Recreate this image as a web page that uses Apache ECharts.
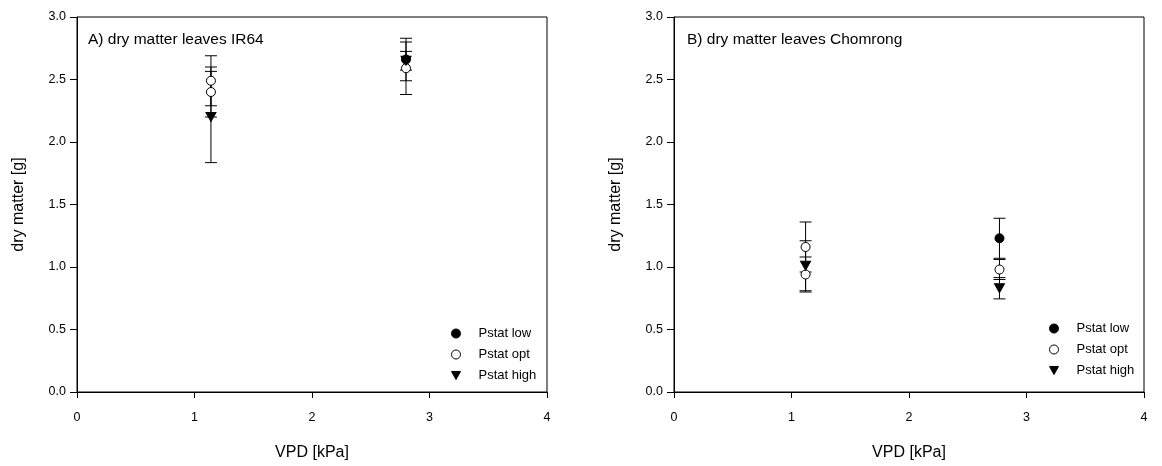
<!DOCTYPE html>
<html>
<head>
<meta charset="utf-8">
<script src="https://cdn.jsdelivr.net/npm/echarts@6/dist/echarts.min.js"></script>
<style>
  html, body { margin: 0; padding: 0; background: #fff; }
  #main { width: 1162px; height: 466px; }
</style>
</head>
<body>
<div id="main"></div>
<script>
// values
var xTicks = [0, 1, 2, 3, 4]
var yTicks = [0, 0.5, 1.0, 1.5, 2.0, 2.5, 3.0]

// A) IR64
var xA = [1.14, 2.80]
var lowA = [2.40, 2.66]
var lowErrA = [0.20, 0.17]
var optA = [2.49, 2.59]
var optErrA = [0.20, 0.21]
var highA = [2.20, 2.65]
var highErrA = [0.365, 0.075]

// B) Chomrong
var xB = [1.12, 2.77]
var lowB = [0.94, 1.23]
var lowErrB = [0.14, 0.16]
var optB = [1.16, 0.98]
var optErrB = [0.20, 0.08]
var highB = [1.01, 0.83]
var highErrB = [0.20, 0.085]

var font = 'Liberation Sans, Arial, sans-serif'
var triDown = 'path://M0,0L10,0L5,9Z'
var chart = echarts.init(document.getElementById('main'))

function pts (xs, ys, openFirst) {
  let out = []
  for (let i = 0; i < xs.length; i++) {
    let item = { value: [xs[i], ys[i]] }
    // first "low" point is drawn hollow in the original
    if (openFirst && i === 0) item.itemStyle = { color: '#fff', borderColor: '#000', borderWidth: 1 }
    out.push(item)
  }
  return out
}

function errs (xs, ys, es) {
  let out = []
  for (let i = 0; i < xs.length; i++) {
    out.push([xs[i], ys[i] - es[i], ys[i] + es[i]])
  }
  return out
}

function errRender (params, api) {
  let p = api.coord([api.value(0), api.value(1)])
  let q = api.coord([api.value(0), api.value(2)])
  let w = 6
  let st = { stroke: '#000', lineWidth: 1 }
  return {
    type: 'group',
    children: [
      { type: 'line', shape: { x1: p[0], y1: p[1], x2: q[0], y2: q[1] }, style: st },
      { type: 'line', shape: { x1: p[0] - w, y1: p[1], x2: p[0] + w, y2: p[1] }, style: st },
      { type: 'line', shape: { x1: q[0] - w, y1: q[1], x2: q[0] + w, y2: q[1] }, style: st }
    ]
  }
}

function xAxisOpt (idx) {
  return {
    gridIndex: idx,
    type: 'value',
    min: xTicks[0],
    max: xTicks[xTicks.length - 1],
    interval: 1,
    name: 'VPD [kPa]',
    nameLocation: 'middle',
    nameGap: 53,
    nameTextStyle: { fontFamily: font, fontSize: 16, color: '#000' },
    axisLine: { lineStyle: { color: '#000', width: 1 } },
    axisTick: { show: true, length: 6, lineStyle: { color: '#000' } },
    axisLabel: { fontFamily: font, fontSize: 12.5, color: '#000', margin: 19 },
    splitLine: { show: false }
  }
}

function yAxisOpt (idx) {
  return {
    gridIndex: idx,
    type: 'value',
    min: yTicks[0],
    max: yTicks[yTicks.length - 1],
    interval: 0.5,
    name: 'dry matter [g]',
    nameLocation: 'middle',
    nameGap: 50,
    nameTextStyle: { fontFamily: font, fontSize: 16, color: '#000' },
    axisLine: { show: true, lineStyle: { color: '#000', width: 1 } },
    axisTick: { show: true, length: 7, lineStyle: { color: '#000' } },
    axisLabel: {
      fontFamily: font, fontSize: 12.5, color: '#000', margin: 11,
      formatter: function (v) { return v.toFixed(1) }
    },
    splitLine: { show: false }
  }
}

function seriesFor (idx, xs, low, lowE, opt, optE, high, highE) {
  let base = { xAxisIndex: idx, yAxisIndex: idx }
  return [
    Object.assign({ name: 'err', type: 'custom', renderItem: errRender, data: errs(xs, low, lowE), z: 2 }, base),
    Object.assign({ name: 'err', type: 'custom', renderItem: errRender, data: errs(xs, opt, optE), z: 2 }, base),
    Object.assign({ name: 'err', type: 'custom', renderItem: errRender, data: errs(xs, high, highE), z: 2 }, base),
    Object.assign({
      name: 'Pstat low', type: 'scatter', symbol: 'circle', symbolSize: 9,
      itemStyle: { color: '#000', borderColor: '#000', borderWidth: 1, opacity: 1 },
      data: pts(xs, low, true), z: 3
    }, base),
    Object.assign({
      name: 'Pstat opt', type: 'scatter', symbol: 'circle', symbolSize: 9,
      itemStyle: { color: '#fff', borderColor: '#000', borderWidth: 1, opacity: 1 },
      data: pts(xs, opt, false), z: 3
    }, base),
    Object.assign({
      name: 'Pstat high', type: 'scatter', symbol: triDown, symbolSize: [10, 9],
      itemStyle: { color: '#000', borderColor: '#000', borderWidth: 1, opacity: 1 },
      data: pts(xs, high, false), z: 3
    }, base)
  ]
}

function legendOpt (left, top) {
  return {
    orient: 'vertical',
    left: left,
    top: top,
    itemWidth: 9,
    itemHeight: 9,
    itemGap: 6,
    selectedMode: false,
    itemStyle: { borderWidth: 1 },
    data: ['Pstat low', 'Pstat opt', 'Pstat high'],
    textStyle: { fontFamily: font, fontSize: 13, color: '#000', lineHeight: 15, padding: [0, 0, 0, 13] }
  }
}

chart.setOption({
  animation: false,
  title: [
    { text: 'A) dry matter leaves IR64', left: 83, top: 27, textStyle: { fontFamily: font, fontSize: 15.5, fontWeight: 'normal', color: '#000' } },
    { text: 'B) dry matter leaves Chomrong', left: 682, top: 27, textStyle: { fontFamily: font, fontSize: 15.5, fontWeight: 'normal', color: '#000' } }
  ],
  grid: [
    { left: 77, top: 17, width: 470, height: 378, show: true, borderColor: '#000', borderWidth: 1 },
    { left: 674, top: 17, width: 470, height: 378, show: true, borderColor: '#000', borderWidth: 1 }
  ],
  legend: [legendOpt(446, 321), legendOpt(1044, 316)],
  xAxis: [xAxisOpt(0), xAxisOpt(1)],
  yAxis: [yAxisOpt(0), yAxisOpt(1)],
  series: seriesFor(0, xA, lowA, lowErrA, optA, optErrA, highA, highErrA)
    .concat(seriesFor(1, xB, lowB, lowErrB, optB, optErrB, highB, highErrB))
})
</script>
</body>
</html>
